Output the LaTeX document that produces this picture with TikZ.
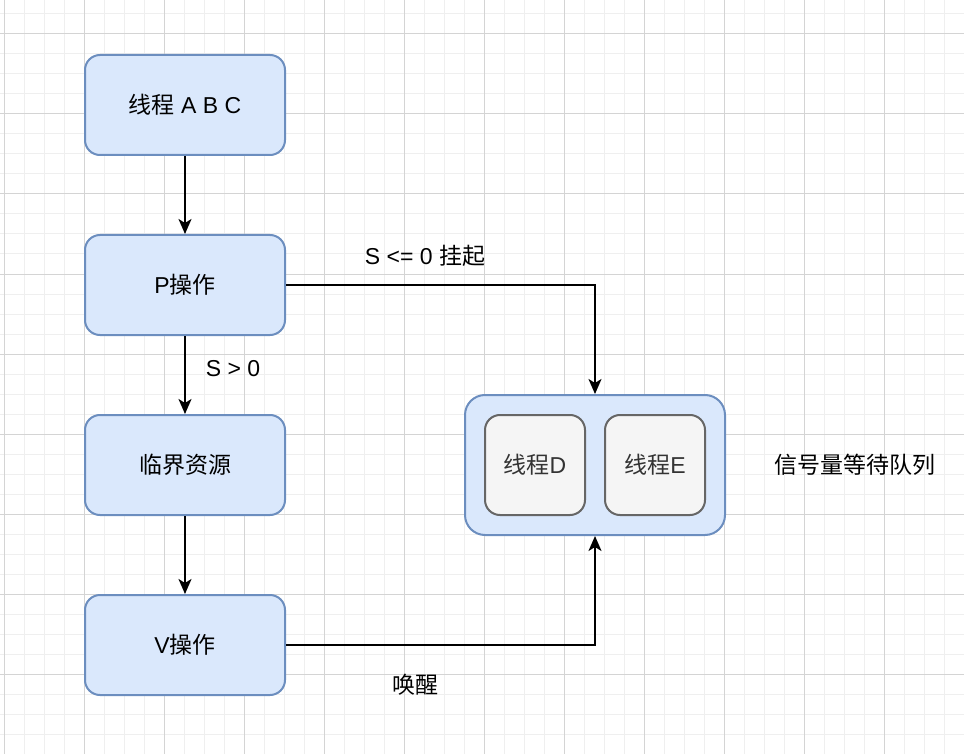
\documentclass[tikz,border=0pt]{standalone}
\usepackage{fontspec}
\usepackage{xcolor}
\usetikzlibrary{arrows.meta}
\setmainfont{Liberation Sans}
\newfontfamily\cjk{Noto Sans CJK SC}
\definecolor{boxfill}{HTML}{DAE8FC}
\definecolor{boxline}{HTML}{6C8EBF}
\definecolor{itemfill}{HTML}{F5F5F5}
\definecolor{itemline}{HTML}{666666}
\definecolor{itemtext}{HTML}{333333}
\definecolor{gridminor}{HTML}{EFEFEF}
\definecolor{gridmajor}{HTML}{D4D4D4}

\begin{document}
\begin{tikzpicture}[x=1pt,y=-1pt]
\tikzstyle{every node}=[font=\fontsize{23}{27}\selectfont];
\tikzstyle{stage}=[draw=boxline,fill=boxfill,line width=2pt,rounded corners=15pt,minimum width=200pt,minimum height=100pt,inner sep=0pt];
\tikzstyle{item}=[draw=itemline,fill=itemfill,text=itemtext,line width=2pt,rounded corners=15pt,minimum width=100pt,minimum height=100pt,inner sep=0pt];
\tikzstyle{flow}=[line width=2pt,-{Stealth[length=15pt,width=13pt,inset=4pt]}];
\useasboundingbox (0,0) rectangle (964,754);
% grid
\foreach \x in {4,24,...,964} \draw[gridminor,line width=1pt] (\x,0)--(\x,754);
\foreach \y in {14,34,...,754} \draw[gridminor,line width=1pt] (0,\y)--(964,\y);
\foreach \x in {4,84,...,964} \draw[gridmajor,line width=1pt] (\x,0)--(\x,754);
\foreach \y in {34,114,...,754} \draw[gridmajor,line width=1pt] (0,\y)--(964,\y);
\node[stage](v1) at (185,105) {{\cjk 线程} A B C};
\node[stage](v2) at (185,285) {P{\cjk 操作}};
\node[stage](v3) at (185,465) {\cjk 临界资源};
\node[stage](v4) at (185,645) {V{\cjk 操作}};
\node[draw=boxline,fill=boxfill,line width=2pt,rounded corners=20pt,minimum width=260pt,minimum height=140pt](q) at (595,465) {};
\node[item](d) at (535,465) {{\cjk 线程}D};
\node[item](e) at (655,465) {{\cjk 线程}E};
\node(lq) at (855,465) {\cjk 信号量等待队列};
\node(ls) at (425,256) {S <= 0 {\cjk 挂起}};
\node(lg) at (233,369) {S > 0};
\node(lw) at (415,685) {\cjk 唤醒};
\draw[flow](v1)--(v2);\draw[flow](v2)--(v3);\draw[flow](v3)--(v4);\draw[flow](v2.east)-|(q.north);\draw[flow](v4.east)-|(q.south);
\end{tikzpicture}
\end{document}
